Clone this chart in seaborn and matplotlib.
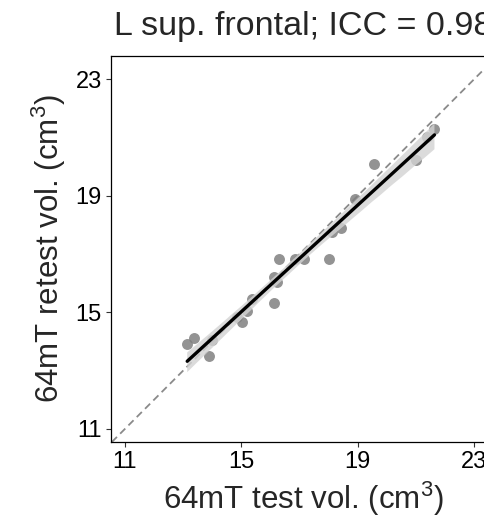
import matplotlib
matplotlib.use("Agg")
import matplotlib.pyplot as plt
import seaborn as sns
import pandas as pd

test_vol = [13.14, 13.39, 13.90, 13.98, 14.84, 15.02, 15.21, 15.36, 16.11, 16.14, 16.22,
            16.29, 16.85, 17.14, 18.03, 18.12, 18.43, 18.92, 19.57, 21.02, 21.38, 21.64]
retest_vol = [13.91, 14.12, 13.51, 14.05, 14.85, 14.68, 15.06, 15.46, 15.33, 16.23, 16.03,
              16.82, 16.83, 16.82, 16.84, 17.77, 17.89, 18.89, 20.08, 20.23, 21.01, 21.28]
ticks = [11, 15, 19, 23]
title = "L sup. frontal; ICC = 0.98"

df = pd.DataFrame({"test": test_vol, "retest": retest_vol})

sns.set_style("white")
plt.rcParams["font.family"] = ["Liberation Sans", "DejaVu Sans"]
plt.rcParams["mathtext.fontset"] = "custom"
plt.rcParams["mathtext.rm"] = "Liberation Sans"
plt.rcParams["mathtext.it"] = "Liberation Sans"

fig = plt.figure(figsize=(4.84, 5.20), dpi=100)
ax = fig.add_axes([110.7 / 484, 78 / 520, 386.3 / 484, 385.7 / 520])

ax.axline((11, 11), slope=1, color="#8a8a8a", linestyle=(0, (4, 2.5)), linewidth=1.3, zorder=1)
sns.regplot(data=df, x="test", y="retest", ax=ax, ci=95,
            scatter_kws=dict(s=62, color="#808080", alpha=0.85, linewidths=0, zorder=2),
            line_kws=dict(color="black", linewidth=2.4, zorder=4))
for coll in ax.collections[1:]:
    coll.set_facecolor("#d3d3d3")
    coll.set_edgecolor("none")
    coll.set_alpha(0.8)
    coll.set_zorder(3)

ax.set_xlim(10.51, 23.79)
ax.set_ylim(10.55, 23.79)
ax.set_xticks(ticks)
ax.set_yticks(ticks)
ax.set_xticklabels([str(t) for t in ticks])
ax.set_yticklabels([str(t) for t in ticks])
ax.tick_params(axis="both", which="major", direction="out", length=3.5, width=0.8,
               color="#333333", labelsize=17, labelcolor="black", pad=3)
ax.tick_params(left=True, bottom=True)
for sp in ax.spines.values():
    sp.set_visible(True)
    sp.set_color("black")
    sp.set_linewidth(0.9)

ax.set_xlabel(r"64mT test vol. (cm$^3$)", fontsize=22.5, labelpad=5)
ax.set_ylabel(r"64mT retest vol. (cm$^3$)", fontsize=22.5, labelpad=5)
ax.set_title(title, fontsize=24.5, loc="left", pad=15, x=0.008)

fig.savefig("out.png", dpi=100)
